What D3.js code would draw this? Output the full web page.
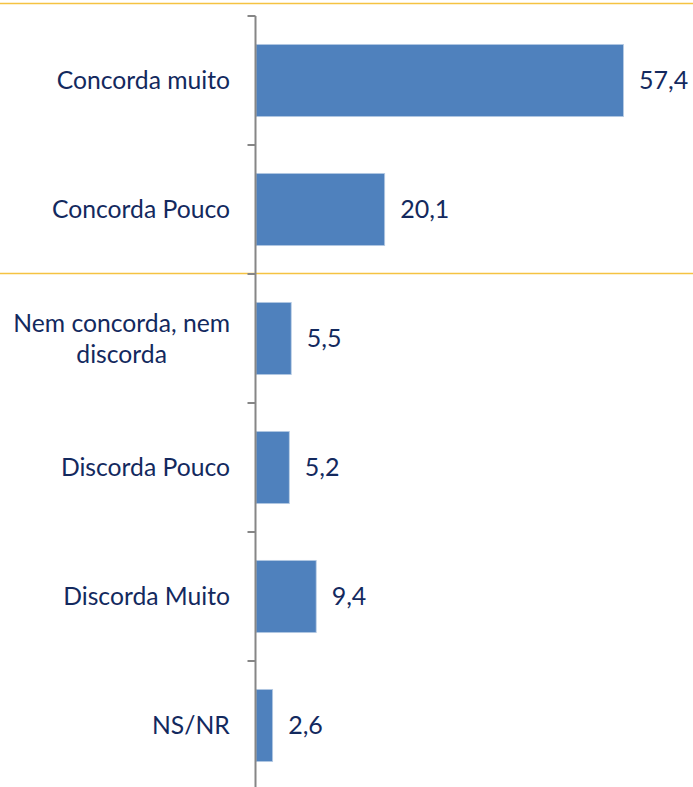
<!DOCTYPE html>
<html>
<head>
<meta charset="utf-8">
<script src="https://cdn.jsdelivr.net/npm/d3@7"></script>
<style>
  body { margin: 0; background: #fff; }
  text { font-family: "Lato", "Open Sans", sans-serif; fill: #13295e; }
</style>
</head>
<body>
<div id="chart"></div>
<script>
// categories and values (percent)
var categories = ["Concorda muito", "Concorda Pouco", "Nem concorda, nem discorda", "Discorda Pouco", "Discorda Muito", "NS/NR"];
var labelLines = [["Concorda muito"], ["Concorda Pouco"], ["Nem concorda, nem", "discorda"], ["Discorda Pouco"], ["Discorda Muito"], ["NS/NR"]];
var values = [57.4, 20.1, 5.5, 5.2, 9.4, 2.6];
var valueLabels = ["57,4", "20,1", "5,5", "5,2", "9,4", "2,6"];
// gold separators: top of chart and between "Concorda Pouco" and "Nem concorda"
var separatorsAfter = [-1, 1];

var w = 693, h = 787;
var marginLeft = 255.5, marginTop = 16;

var svg = d3.select("#chart").append("svg")
    .attr("width", w)
    .attr("height", h);

var y = d3.scaleBand()
    .domain(categories)
    .range([marginTop, marginTop + 129 * categories.length])
    .paddingInner(0.44)
    .paddingOuter(0.22);

var x = d3.scaleLinear()
    .domain([0, 57.4])
    .range([marginLeft, 623]);

// gold lines
svg.append("g").selectAll("line")
    .data(separatorsAfter)
    .enter().append("line")
    .attr("x1", 0)
    .attr("x2", w)
    .attr("y1", function(d) { return d < 0 ? 3.5 : marginTop + (d + 1) * y.step() - 0.5; })
    .attr("y2", function(d) { return d < 0 ? 3.5 : marginTop + (d + 1) * y.step() - 0.5; })
    .attr("stroke", "#f5c342")
    .attr("stroke-width", 1.5);

// bars
svg.append("g").selectAll("rect")
    .data(values)
    .enter().append("rect")
    .attr("x", marginLeft + 0.5)
    .attr("y", function(d, i) { return y(categories[i]); })
    .attr("width", function(d) { return x(d) - marginLeft; })
    .attr("height", y.bandwidth())
    .attr("fill", "#4f81bd")
    .attr("stroke", "#b8cce4")
    .attr("stroke-width", 0.8);

// axis
var ticks = d3.range(categories.length + 1).map(function(i) { return marginTop + i * y.step(); });
svg.append("line")
    .attr("x1", marginLeft).attr("x2", marginLeft)
    .attr("y1", marginTop).attr("y2", h)
    .attr("stroke", "#868686")
    .attr("stroke-width", 2);
svg.append("g").selectAll("line")
    .data(ticks)
    .enter().append("line")
    .attr("x1", marginLeft - 8).attr("x2", marginLeft)
    .attr("y1", function(d) { return d; })
    .attr("y2", function(d) { return d; })
    .attr("stroke", "#868686")
    .attr("stroke-width", 2);

// category labels
var lab = svg.append("g").selectAll("text")
    .data(labelLines)
    .enter().append("text")
    .attr("text-anchor", "middle")
    .attr("font-size", 24.7);
lab.each(function(lines, i) {
    var t = d3.select(this);
    var cy = y(categories[i]) + y.bandwidth() / 2;
    t.selectAll("tspan")
        .data(lines)
        .enter().append("tspan")
        .attr("x", 0)
        .attr("y", function(d, j) { return cy + (j - (lines.length - 1) / 2) * 31; })
        .attr("dy", "0.35em")
        .text(function(d) { return d; });
});
// right-align each label block at x = 230
lab.each(function() {
    var bb = this.getBBox();
    d3.select(this).selectAll("tspan").attr("x", 230 - bb.width / 2);
});

// value labels
svg.append("g").selectAll("text")
    .data(values)
    .enter().append("text")
    .attr("x", function(d) { return x(d) + 16; })
    .attr("y", function(d, i) { return y(categories[i]) + y.bandwidth() / 2; })
    .attr("dy", "0.35em")
    .attr("font-size", 25)
    .text(function(d, i) { return valueLabels[i]; });
</script>
</body>
</html>
